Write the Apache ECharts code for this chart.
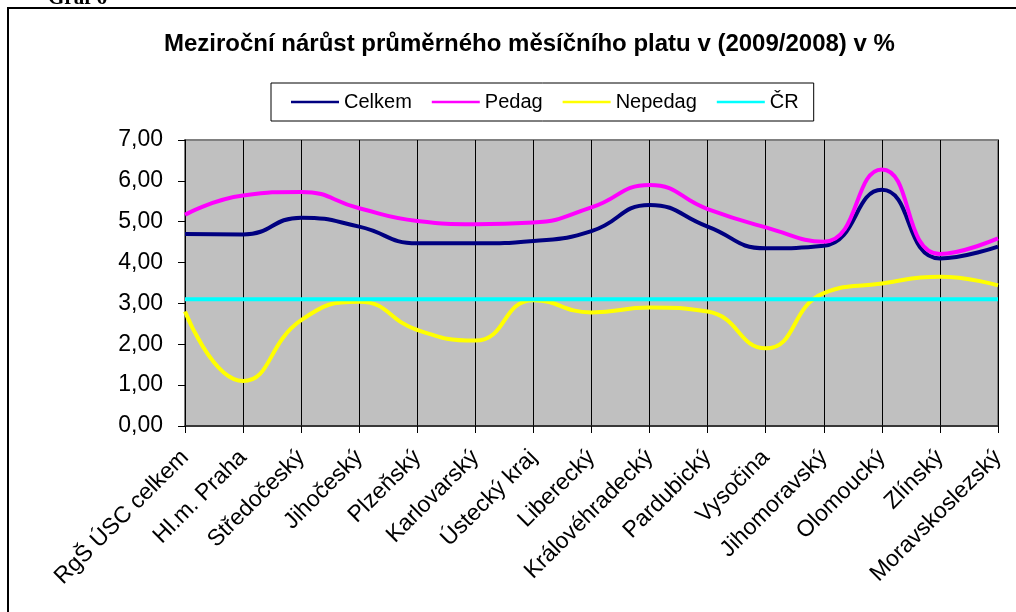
<!DOCTYPE html>
<html>
<head>
<meta charset="utf-8">
<script src="https://cdn.jsdelivr.net/npm/echarts@6/dist/echarts.min.js"></script>
<style>
html,body{margin:0;padding:0;background:#fff;}
#chart{width:1016px;height:612px;}
</style>
</head>
<body>
<div id="chart"></div>
<script>
const categories = ['RgŠ ÚSC celkem','Hl.m. Praha','Středočeský','Jihočeský','Plzeňský','Karlovarský','Ústecký kraj','Liberecký','Královéhradecký','Pardubický','Vysočina','Jihomoravský','Olomoucký','Zlínský','Moravskoslezský'];
const celkem  = [4.70,4.69,5.10,4.88,4.47,4.47,4.53,4.77,5.41,4.88,4.35,4.41,5.78,4.10,4.39];
const pedag   = [5.17,5.64,5.73,5.33,5.02,4.94,4.98,5.35,5.90,5.31,4.86,4.51,6.28,4.21,4.59];
const nepedag = [2.80,1.10,2.59,3.04,2.35,2.09,3.08,2.78,2.90,2.80,1.90,3.25,3.49,3.65,3.44];
const cr      = [3.10,3.10,3.10,3.10,3.10,3.10,3.10,3.10,3.10,3.10,3.10,3.10,3.10,3.10,3.10];
const seriesNames = ['Celkem','Pedag','Nepedag','ČR'];
const titleText = 'Meziroční nárůst průměrného měsíčního platu v (2009/2008) v %';
const captionText = 'Graf 6';

const FONT = '"Liberation Sans", Arial, sans-serif';
const chart = echarts.init(document.getElementById('chart'), null, {renderer:'canvas'});

function mkSeries(name, data, color){
  return {
    name: name, type: 'line', data: data, smooth: 0.5,
    symbol: 'none', lineStyle: {color: color, width: 4}, itemStyle: {color: color},
    emphasis: {disabled: true}
  };
}

chart.setOption({
  animation: false,
  backgroundColor: '#ffffff',
  textStyle: {fontFamily: FONT},
  title: {
    text: titleText, left: 159, top: 27,
    textStyle: {fontFamily: FONT, fontSize: 24, fontWeight: 'bold', color: '#000'}
  },
  legend: {
    data: seriesNames, left: 271, top: 83,
    orient: 'horizontal',
    padding: [9, 15, 9, 20],
    borderColor: '#000', borderWidth: 1, backgroundColor: '#fff',
    itemWidth: 48, itemHeight: 14, itemGap: 20,
    icon: 'path://M0,6 L48,6 L48,8.5 L0,8.5 Z',
    textStyle: {fontFamily: FONT, fontSize: 20, color: '#000'}
  },
  grid: {
    left: 185, right: 18, top: 140, bottom: 186,
    show: true, backgroundColor: '#C0C0C0', borderColor: '#808080', borderWidth: 2
  },
  xAxis: {
    type: 'category', data: categories, boundaryGap: false,
    axisLine: {show: true, lineStyle: {color: '#202020', width: 1.5}},
    axisTick: {show: true, length: 7, lineStyle: {color: '#000'}},
    splitLine: {show: true, lineStyle: {color: '#000', width: 1}},
    axisLabel: {interval: 0, rotate: 45, margin: 28, fontFamily: FONT, fontSize: 23, color: '#000'}
  },
  yAxis: {
    type: 'value', min: 0, max: 7, interval: 1,
    axisLine: {show: true, lineStyle: {color: '#000', width: 1}},
    axisTick: {show: true, length: 7, lineStyle: {color: '#000'}},
    splitLine: {show: false},
    axisLabel: {margin: 22, fontFamily: FONT, fontSize: 23, color: '#000',
      formatter: v => v.toFixed(2).replace('.', ',')}
  },
  series: [
    mkSeries(seriesNames[0], celkem, '#000080'),
    mkSeries(seriesNames[1], pedag, '#FF00FF'),
    mkSeries(seriesNames[2], nepedag, '#FFFF00'),
    mkSeries(seriesNames[3], cr, '#00FFFF')
  ],
  graphic: [
    {type: 'rect', shape: {x: 8, y: 8, width: 1200, height: 800},
     style: {fill: null, stroke: '#000', lineWidth: 2}, silent: true},
    {type: 'text', x: 48, y: -12,
     style: {text: captionText, font: 'bold 21px "Liberation Serif", "Times New Roman", serif', fill: '#000'}, silent: true}
  ]
});
</script>
</body>
</html>
